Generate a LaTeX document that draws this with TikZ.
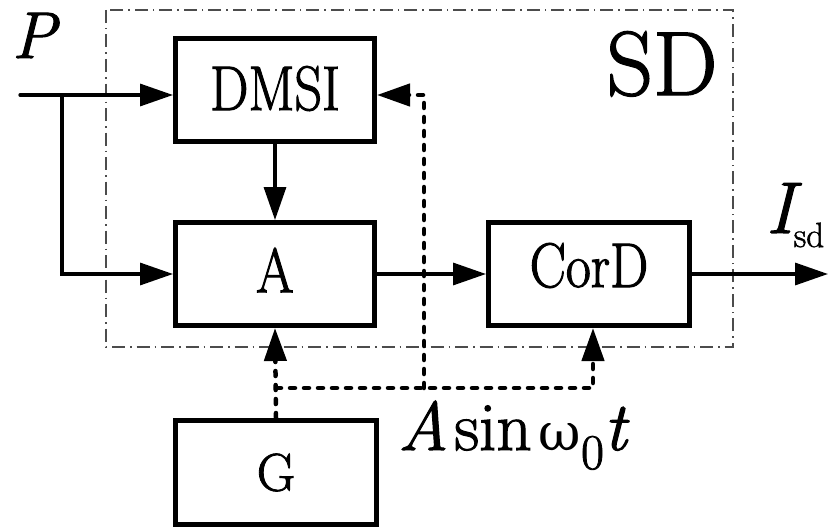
\documentclass[tikz,border=0pt]{standalone}
\usepackage{fontspec}
\setmainfont{Latin Modern Roman}[FakeBold=1.6]
\newfontfamily\narrowserif{Latin Modern Roman}[FakeStretch=0.86, FakeBold=1.6]
\newfontfamily\greekserif{DejaVu Serif}
\usetikzlibrary{arrows.meta}
\begin{document}
\begin{tikzpicture}[x=1pt,y=-1pt,
  blockbox/.style={draw, line width=5pt, minimum width=199pt, minimum height=103pt, inner sep=0pt,
    font={\narrowserif\fontsize{63}{63}\selectfont}},
  sig/.style={line width=3.3pt, line cap=round, -{Triangle[length=33pt,width=22pt]}},
  dotsig/.style={line width=4.5pt, line cap=round, dash pattern=on 5pt off 9pt, -{Triangle[length=33pt,width=22pt]}},
  sdframe/.style={draw=black!70, line width=1.3pt, dash pattern=on 13pt off 5pt on 1.5pt off 5pt},
  lbl/.style={inner sep=0pt}
]
\useasboundingbox (0,0) rectangle (832,527);
\draw[sdframe] (106,10) rectangle (733,347);

\node[blockbox] (dmsi) at (275,90) {\raisebox{2pt}[\height]{DMSI}};
\node[blockbox] (amp) at (275,274) {\raisebox{4pt}[\height]{A}};
\node[blockbox, minimum width=201pt] (cord) at (589,274) {\raisebox{9pt}[\height]{CorD}};
\node[blockbox, minimum width=201pt, minimum height=104pt, font={\fontsize{53}{53}\selectfont}] (gen) at (276,472.5) {G};

\node[lbl, anchor=base, font={\itshape\fontsize{66}{66}\selectfont}] (plabel) at (34,58) {P};
\node[lbl, anchor=base, font={\fontsize{91}{91}\selectfont}] (sdlabel) at (662,95) {SD};
\node[lbl, anchor=base west] (isd) at (766,233) {{\itshape\fontsize{73}{73}\selectfont I}\raisebox{-14pt}{\fontsize{35}{35}\selectfont sd}};
\node[lbl, anchor=base west, font={\fontsize{69}{69}\selectfont}] (sigtext) at (398,450) {{\itshape A}\hspace{6pt}sin\hspace{7pt}{\greekserif\fontsize{52}{52}\selectfont ω}\raisebox{-19pt}{\fontsize{50}{50}\selectfont 0}{\itshape t}};

\coordinate (pin) at (20,95);
\coordinate (pbr) at (62,95);
\coordinate (out) at (828,274);
\coordinate (gj) at (276,388);
\coordinate (fbx) at (424,388);
\coordinate (cj) at (593,388);

\draw[sig] (pin) -- (pin -| dmsi.west);
\draw[sig] (pbr) |- (amp.west);
\draw[sig] (dmsi.south) -- (amp.north);
\draw[sig] (amp.east) -- (cord.west);
\draw[sig] (cord.east) -- (out);
\draw[dotsig] (gen.north) -- (amp.south);
\draw[dotsig] (gj) -- (cj) -- (cj |- cord.south);
\draw[dotsig] (fbx) -- (fbx |- pin) -- (pin -| dmsi.east);
\end{tikzpicture}
\end{document}
